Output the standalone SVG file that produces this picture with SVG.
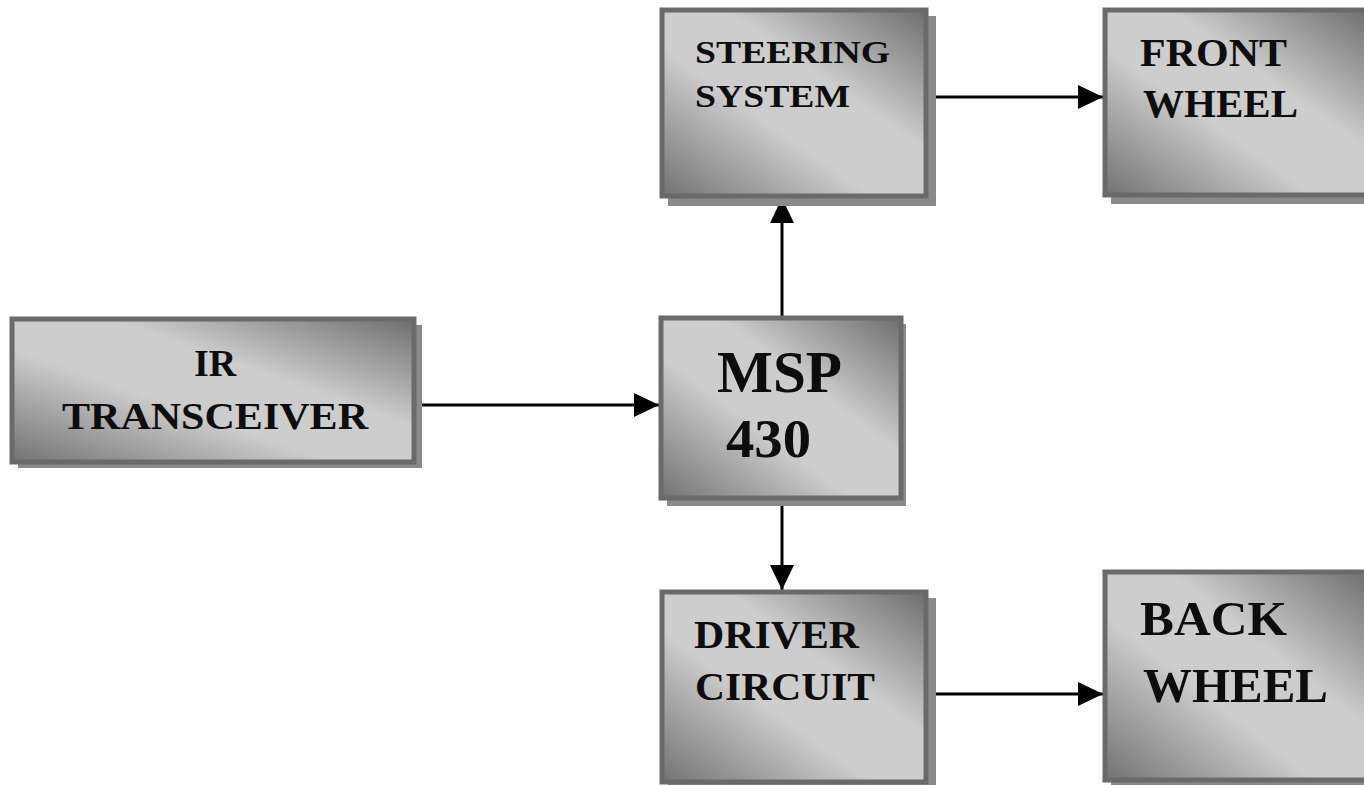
<svg xmlns="http://www.w3.org/2000/svg" width="1364" height="785" viewBox="0 0 1364 785">
<style>
.shadow{fill:#8a8a8a}
.box{fill:url(#g);stroke:#6a6a6a;stroke-width:5}
.t{font-family:"Liberation Serif","Times New Roman",serif;font-weight:bold;fill:#0d0d0d}
.c{stroke:#000;stroke-width:3;fill:none;marker-end:url(#ah)}
</style>
<defs>
<linearGradient id="g" x1="1" y1="0" x2="0" y2="1">
<stop offset="0" stop-color="#6e6e6e"/>
<stop offset="0.38" stop-color="#cdcdcd"/>
<stop offset="0.6" stop-color="#cdcdcd"/>
<stop offset="1" stop-color="#727272"/>
</linearGradient>
<marker id="ah" markerUnits="userSpaceOnUse" markerWidth="26" markerHeight="24" refX="25" refY="12" orient="auto">
<path d="M0,0 L25,12 L0,24 Z" fill="#000"/>
</marker>
</defs>
<g id="connectors">
<line class="c" x1="418" y1="405" x2="659" y2="405"/>
<line class="c" x1="782" y1="316" x2="782" y2="198"/>
<line class="c" x1="782" y1="505" x2="782" y2="590"/>
<line class="c" x1="935" y1="97" x2="1103" y2="97"/>
<line class="c" x1="935" y1="694" x2="1103" y2="694"/>
</g>
<g id="steering">
<rect class="shadow" x="668" y="16" width="268" height="190"/>
<rect class="box" x="662" y="10" width="264" height="186"/>
<text class="t" font-size="32" x="695" y="63" textLength="195" lengthAdjust="spacingAndGlyphs">STEERING</text>
<text class="t" font-size="32" x="695" y="107" textLength="155" lengthAdjust="spacingAndGlyphs">SYSTEM</text>
</g>
<g id="front-wheel">
<rect class="shadow" x="1111" y="16" width="260" height="188"/>
<rect class="box" x="1105" y="10" width="264" height="185"/>
<text class="t" font-size="40" x="1140" y="66" textLength="147" lengthAdjust="spacingAndGlyphs">FRONT</text>
<text class="t" font-size="40" x="1143" y="117" textLength="155" lengthAdjust="spacingAndGlyphs">WHEEL</text>
</g>
<g id="ir-transceiver">
<rect class="shadow" x="18" y="325" width="404" height="143"/>
<rect class="box" x="12" y="319" width="402" height="143"/>
<text class="t" font-size="38" x="215" y="376" text-anchor="middle">IR</text>
<text class="t" font-size="38" x="62" y="429" textLength="306" lengthAdjust="spacingAndGlyphs">TRANSCEIVER</text>
</g>
<g id="msp430">
<rect class="shadow" x="667" y="324" width="239" height="182"/>
<rect class="box" x="661" y="318" width="240" height="180"/>
<text class="t" font-size="60" x="717" y="392" textLength="125" lengthAdjust="spacingAndGlyphs">MSP</text>
<text class="t" font-size="55" x="726" y="457" textLength="85" lengthAdjust="spacingAndGlyphs">430</text>
</g>
<g id="driver-circuit">
<rect class="shadow" x="668" y="598" width="268" height="190"/>
<rect class="box" x="662" y="592" width="264" height="190"/>
<text class="t" font-size="40" x="694" y="648" textLength="165" lengthAdjust="spacingAndGlyphs">DRIVER</text>
<text class="t" font-size="40" x="695" y="700" textLength="180" lengthAdjust="spacingAndGlyphs">CIRCUIT</text>
</g>
<g id="back-wheel">
<rect class="shadow" x="1111" y="578" width="260" height="210"/>
<rect class="box" x="1105" y="572" width="264" height="208"/>
<text class="t" font-size="48" x="1140" y="635" textLength="147" lengthAdjust="spacingAndGlyphs">BACK</text>
<text class="t" font-size="48" x="1143" y="702" textLength="185" lengthAdjust="spacingAndGlyphs">WHEEL</text>
</g>
</svg>
